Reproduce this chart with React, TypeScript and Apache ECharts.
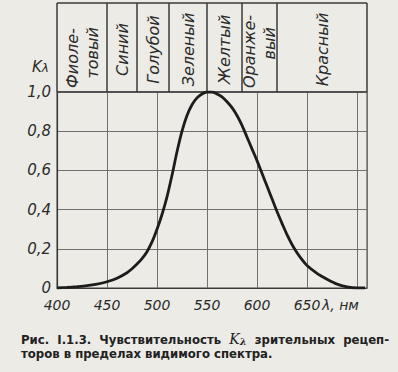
import React, { useEffect, useRef } from "react";
import * as echarts from "echarts";

// Spectral sensitivity curve K_lambda
const wavelengths = [400, 410, 420, 430, 440, 450, 460, 470, 475, 480, 485, 490, 495, 500, 505, 510, 515, 520, 525, 530, 535, 540, 545, 550, 555, 560, 565, 570, 575, 580, 585, 590, 595, 600, 605, 610, 615, 620, 625, 630, 635, 640, 645, 650, 660, 670, 680, 690, 700, 708];
const sensitivity = [0.0, 0.003, 0.007, 0.012, 0.02, 0.032, 0.05, 0.078, 0.098, 0.122, 0.15, 0.185, 0.235, 0.3, 0.375, 0.465, 0.575, 0.695, 0.8, 0.88, 0.935, 0.97, 0.99, 1.0, 1.0, 0.99, 0.975, 0.95, 0.92, 0.88, 0.83, 0.77, 0.71, 0.65, 0.585, 0.52, 0.455, 0.39, 0.33, 0.272, 0.222, 0.18, 0.145, 0.115, 0.075, 0.045, 0.02, 0.006, 0.0, 0.0];

// Colour bands of the visible spectrum (header)
const bandStarts = [400, 450, 480, 512, 550, 585, 620];
const bandEnds = [450, 480, 512, 550, 585, 620, 710];
const bandNames = ["Фиоле-\nтовый", "Синий", "Голубой", "Зеленый", "Желтый", "Оранже-\nвый", "Красный"];

const xMin = 400;
const xMax = 710;
const xStep = 50;
const yMin = 0;
const yMax = 1.0;
const yStep = 0.2;

const yAxisTitle = "K";
const yAxisTitleSub = "λ";
const xAxisTitle = "λ, нм";
const captionLine1a = "Рис.  I.1.3.  Чувствительность  ";
const captionLine1b = "  зрительных  рецеп-";
const captionLine2 = "торов в пределах видимого спектра.";

const INK = "#2b2b2b";
const GRID = "#707070";
const PAPER = "#ecebe6";
const NUM_FONT = "DejaVu Sans";
const HEAD_SIZE = 16;

let measureCtx: CanvasRenderingContext2D | null = null;
function textWidth(t: string): number {
  if (!measureCtx) {
    measureCtx = document.createElement("canvas").getContext("2d");
  }
  if (!measureCtx) return t.length * HEAD_SIZE * 0.6;
  measureCtx.font = `italic ${HEAD_SIZE}px "${NUM_FONT}"`;
  return measureCtx.measureText(t).width;
}

export default function App() {
  const ref = useRef<HTMLDivElement>(null);

  useEffect(() => {
    if (!ref.current) return;
    const chart = echarts.init(ref.current, null, { renderer: "svg" });

    const curve = wavelengths.map((w, i) => [w, sensitivity[i]]);
    const bands = bandStarts.map((s, i) => [s, bandEnds[i], i]);

    const labelStyle = (text: string) => ({
      legacy: false,
      text,
      fill: INK,
      fontFamily: NUM_FONT,
      fontStyle: "italic",
      fontSize: HEAD_SIZE,
      align: "left",
      verticalAlign: "middle",
    });

    const option: any = {
      animation: false,
      backgroundColor: PAPER,
      grid: [
        {
          left: 57,
          top: 92,
          width: 310,
          height: 196,
          show: true,
          borderColor: "#3a3a3a",
          borderWidth: 1,
          backgroundColor: "transparent",
        },
        {
          left: 57,
          top: 3,
          width: 310,
          height: 89,
          show: true,
          borderColor: "#3a3a3a",
          borderWidth: 1,
          backgroundColor: "transparent",
        },
      ],
      xAxis: [
        {
          type: "value",
          gridIndex: 0,
          min: xMin,
          max: xMax,
          interval: xStep,
          axisLine: { show: true, lineStyle: { color: "#3a3a3a", width: 1.2 } },
          axisTick: { show: false },
          splitLine: { show: true, lineStyle: { color: GRID, width: 1 } },
          axisLabel: {
            margin: 10,
            color: INK,
            fontFamily: NUM_FONT,
            fontStyle: "italic",
            fontSize: 14,
            formatter: (v: number) => (v >= 700 ? "" : String(v)),
          },
        },
        {
          type: "value",
          gridIndex: 1,
          min: xMin,
          max: xMax,
          show: false,
        },
      ],
      yAxis: [
        {
          type: "value",
          gridIndex: 0,
          min: yMin,
          max: yMax,
          interval: yStep,
          axisLine: { show: true, lineStyle: { color: "#3a3a3a", width: 1.2 } },
          axisTick: { show: false },
          splitLine: { show: true, lineStyle: { color: GRID, width: 1 } },
          axisLabel: {
            margin: 6,
            color: INK,
            fontFamily: NUM_FONT,
            fontStyle: "italic",
            fontSize: 15,
            formatter: (v: number) => (v === 0 ? "0" : v.toFixed(1).replace(".", ",")),
          },
        },
        {
          type: "value",
          gridIndex: 1,
          min: 0,
          max: 1,
          show: false,
        },
      ],
      series: [
        {
          type: "line",
          xAxisIndex: 0,
          yAxisIndex: 0,
          data: curve,
          smooth: 0.3,
          showSymbol: false,
          lineStyle: { color: "#1c1c1c", width: 2.8 },
        },
        {
          type: "custom",
          xAxisIndex: 1,
          yAxisIndex: 1,
          data: bands,
          clip: false,
          renderItem: (params: any, api: any) => {
            const start = api.value(0);
            const end = api.value(1);
            const idx = api.value(2);
            const bl = api.coord([start, 0]);
            const tr = api.coord([end, 1]);
            const lines = bandNames[idx].split("\n");
            const cx = (bl[0] + tr[0]) / 2;
            const top = tr[1];
            const bottom = bl[1];
            const children: any[] = [
              {
                type: "rect",
                shape: { x: bl[0], y: top, width: tr[0] - bl[0], height: bottom - top },
                style: { fill: "none", stroke: "#3a3a3a", lineWidth: 1 },
              },
            ];
            if (lines.length === 1) {
              const w = textWidth(lines[0]);
              children.push({
                type: "text",
                x: cx,
                y: (top + bottom) / 2 + 2 + w / 2,
                rotation: Math.PI / 2,
                style: labelStyle(lines[0]),
              });
            } else {
              const w2 = textWidth(lines[1]);
              children.push({
                type: "text",
                x: cx - 10,
                y: bottom - 4,
                rotation: Math.PI / 2,
                style: labelStyle(lines[0]),
              });
              children.push({
                type: "text",
                x: cx + 10,
                y: top + 24 + w2,
                rotation: Math.PI / 2,
                style: labelStyle(lines[1]),
              });
            }
            return { type: "group", children };
          },
        },
      ],
      graphic: [
        {
          type: "text",
          left: 32,
          top: 59,
          style: {
            text: `{k|${yAxisTitle}}{s|${yAxisTitleSub}}`,
            rich: {
              k: { fontFamily: NUM_FONT, fontStyle: "italic", fontSize: 15, fill: INK, verticalAlign: "bottom" },
              s: { fontFamily: NUM_FONT, fontStyle: "italic", fontSize: 12, fill: INK, padding: [6, 0, 0, 0], verticalAlign: "bottom" },
            },
          },
        },
        {
          type: "text",
          left: 322,
          top: 298,
          style: {
            text: xAxisTitle,
            fill: INK,
            fontFamily: NUM_FONT,
            fontStyle: "italic",
            fontSize: 14,
          },
        },
        {
          type: "text",
          left: 21,
          top: 332,
          style: {
            text: `{b|${captionLine1a}}{k|K}{ks|λ}{b|${captionLine1b}}`,
            rich: {
              b: { fontFamily: "DejaVu Sans Condensed", fontWeight: "bold", fontSize: 13, fill: "#222", lineHeight: 14 },
              k: { fontFamily: "DejaVu Serif", fontStyle: "italic", fontSize: 14, fill: "#222", lineHeight: 14 },
              ks: { fontFamily: "DejaVu Serif", fontStyle: "italic", fontWeight: "bold", fontSize: 10, fill: "#222", lineHeight: 14, padding: [4, 0, 0, 0] },
            },
          },
        },
        {
          type: "text",
          left: 21,
          top: 347,
          style: {
            text: captionLine2,
            fill: "#222",
            fontFamily: "DejaVu Sans Condensed",
            fontWeight: "bold",
            fontSize: 13,
          },
        },
      ],
    };

    chart.setOption(option);
    return () => chart.dispose();
  }, []);

  return (
    <div
      ref={ref}
      style={{ position: "fixed", left: 0, top: 0, width: 398, height: 372, background: PAPER }}
    />
  );
}
